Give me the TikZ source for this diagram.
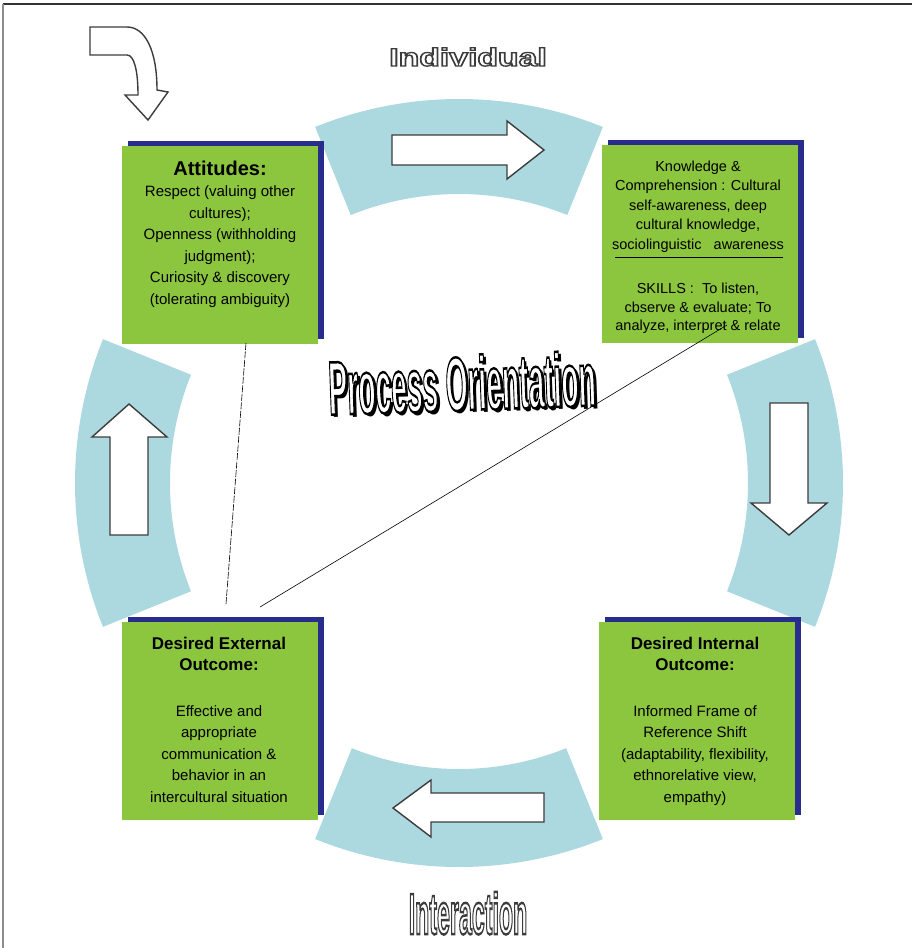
\documentclass[tikz,border=0pt]{standalone}
\usepackage{fontspec}
\setmainfont{Liberation Sans}
\usetikzlibrary{shadows, positioning, calc}

\definecolor{boxgreen}{RGB}{140,198,63}
\definecolor{boxblue}{RGB}{40,44,140}
\definecolor{bandblue}{RGB}{172,216,224}
\definecolor{arrowgray}{RGB}{60,60,60}

\tikzstyle{band} = [fill=bandblue, draw=none]
\tikzstyle{bigarrow} = [draw=arrowgray, fill=white, line width=1.4pt, line join=miter]
\tikzstyle{greenbox} = [rectangle, fill=boxgreen, minimum width=196pt, minimum height=198pt, drop shadow={shadow xshift=6pt, shadow yshift=5pt, fill=boxblue, opacity=1}]
\tikzstyle{boxtext} = [align=center, inner sep=0pt, font=\fontsize{15}{21.5}\selectfont]
\tikzstyle{link} = [line width=0.6pt, black]

\newcommand{\titlefont}{\fontsize{17}{21.5}\selectfont\bfseries}
\newcommand{\hollow}[2]{\special{pdf:literal direct #1 w 1 Tr}#2\special{pdf:literal direct 0 Tr}}

\begin{document}
\begin{tikzpicture}[x=1pt, y=-1pt]
\useasboundingbox (0,0) rectangle (912,948);
\coordinate (mid) at (459,483);

% frame
\draw [line width=1.5pt, black!80] (3,4) -- (912,4);
\draw [line width=2pt, black!45] (3,4) -- (3,948);

% bands round the cycle
\fill [band] (mid) ++(68:384pt) arc[start angle=68, end angle=112, radius=384pt] -- ($(mid)+(112:289pt)$) arc[start angle=112, end angle=68, radius=289pt] -- cycle;
\fill [band] (mid) ++(158:384pt) arc[start angle=158, end angle=202, radius=384pt] -- ($(mid)+(202:289pt)$) arc[start angle=202, end angle=158, radius=289pt] -- cycle;
\fill [band] (mid) ++(248:384pt) arc[start angle=248, end angle=292, radius=384pt] -- ($(mid)+(292:286pt)$) arc[start angle=292, end angle=248, radius=286pt] -- cycle;
\fill [band] (mid) ++(-22:384pt) arc[start angle=-22, end angle=22, radius=384pt] -- ($(mid)+(22:289pt)$) arc[start angle=22, end angle=-22, radius=289pt] -- cycle;

% block arrows
\draw [bigarrow] (90,27) -- (127,27) .. controls (145,27) and (157,50) .. (157,90) -- (168,92) -- (148,120) -- (125,95) -- (138,95) .. controls (138,70) and (134,55) .. (127,55) -- (90,55) -- cycle;
\draw [bigarrow] (392,135) -- (507,135) -- (507,121) -- (544,150) -- (507,179) -- (507,165) -- (392,165) -- cycle;
\draw [bigarrow] (770,403) -- (808,403) -- (808,503) -- (827,503) -- (789,535) -- (751,503) -- (770,503) -- cycle;
\draw [bigarrow] (544,793) -- (431,793) -- (431,780) -- (393,808) -- (431,837) -- (431,822) -- (544,822) -- cycle;
\draw [bigarrow] (110,535) -- (110,437) -- (92,437) -- (129,404) -- (167,437) -- (148,437) -- (148,535) -- cycle;

% titles
\node (individual) at (468,57) {\color{arrowgray}\fontsize{25}{25}\selectfont\bfseries\scalebox{1.35}[1]{\hollow{1.3}{Individual}}};
\node (procshadow) [rotate=2] at (465,386) {\color{black}\fontsize{76}{76}\selectfont\bfseries\scalebox{0.37}[1]{Process Orientation}};
\node (proctitle) [rotate=2] at (462,383) {\color{black}\fontsize{76}{76}\selectfont\bfseries\scalebox{0.37}[1]{\special{pdf:literal direct 1 g 2.5 w 2 Tr}Process Orientation\special{pdf:literal direct 0 Tr}}};
\node (interaction) [anchor=base] at (468,934) {\color{arrowgray}\fontsize{58}{58}\selectfont\bfseries\scalebox{0.4}[1]{\hollow{2.5}{Interaction}}};

% the four boxes
\node (attbox) [greenbox] at (220,245) {};
\node (knowbox) [greenbox] at (700,244) {};
\node (extbox) [greenbox] at (220,721) {};
\node (intbox) [greenbox] at (697,721) {};

\node (atttext) [boxtext, below=15pt of attbox.north] {{\fontsize{20}{21.8}\selectfont\bfseries Attitudes:}\\ Respect (valuing other\\ cultures);\\ Openness (withholding\\ judgment);\\ Curiosity \& discovery\\ (tolerating ambiguity)};
\node (knowtext) [boxtext, font=\fontsize{14.5}{19.6}\selectfont, below=15.5pt of knowbox.north, xshift=-2pt] {Knowledge \&\\ Comprehension : Cultural\\ self-awareness, deep\\ cultural knowledge,\\ sociolinguistic \ \ awareness};
\node (skilltext) [boxtext, font=\fontsize{14.5}{18.6}\selectfont, below=138pt of knowbox.north, xshift=-2pt] {SKILLS :\ \ To listen,\\ cbserve \& evaluate; To\\ analyze, interpret \& relate};
\draw [line width=1pt, black] (615,257) -- (783,257);
\node (exttext) [boxtext, below=15pt of extbox.north, xshift=-1pt] {{\titlefont Desired External}\\ {\titlefont Outcome:}\\[24pt] Effective and\\ appropriate\\ communication \&\\ behavior in an\\ intercultural situation};
\node (inttext) [boxtext, below=15pt of intbox.north, xshift=-2pt] {{\titlefont Desired Internal}\\ {\titlefont Outcome:}\\[24pt] Informed Frame of\\ Reference Shift\\ (adaptability, flexibility,\\ ethnorelative view,\\ empathy)};

% thin links
\coordinate (attfoot) at (246,343);
\coordinate (extfoot) at (226,604);
\coordinate (skillfoot) at (727,325);
\coordinate (extcorner) at (260,607);
\draw [link, dash pattern=on 7pt off 1.5pt] (attfoot) -- (extfoot);
\draw [link] (skillfoot) -- (extcorner);

\end{tikzpicture}
\end{document}
